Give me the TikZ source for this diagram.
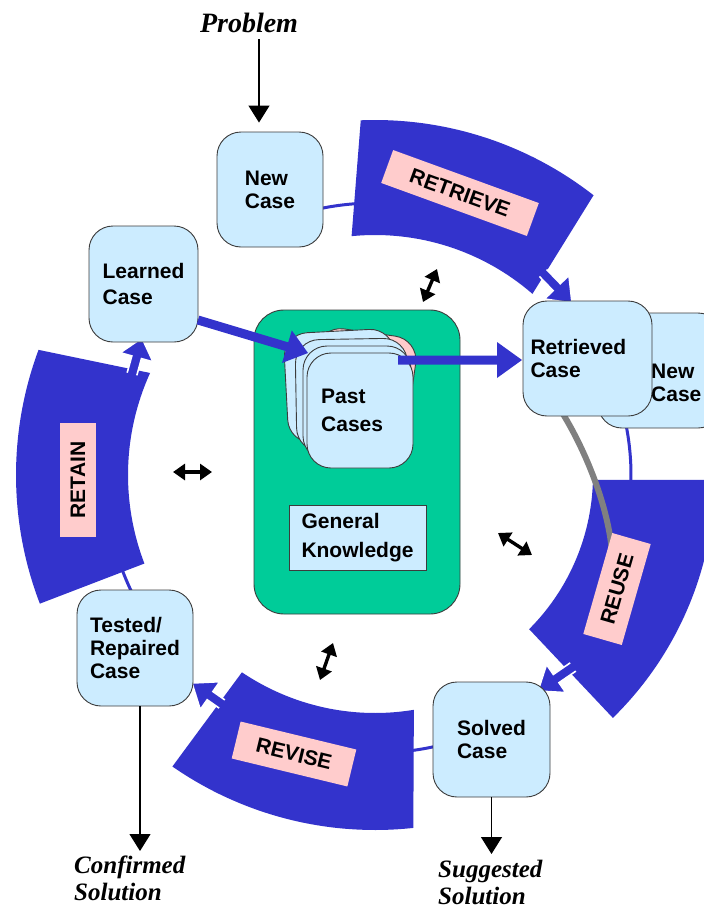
\documentclass[tikz,border=0pt]{standalone}
\usepackage{fontspec}
\setmainfont{Liberation Serif}
\newfontfamily\boxfont{Liberation Sans}
\usetikzlibrary{arrows.meta,calc}

\definecolor{bandblue}{RGB}{51,51,204}
\definecolor{labelpink}{RGB}{255,204,204}
\definecolor{caseblue}{RGB}{204,236,255}
\definecolor{kbgreen}{RGB}{0,204,153}
\definecolor{edgegray}{RGB}{60,60,60}
\definecolor{linkgray}{RGB}{128,128,128}

% annular band around the cycle centre (375,475):
% #1 inner radius, #2 outer radius, #3/#4 inner start/end angle, #5/#6 outer start/end angle
\newcommand\ringband[6]{%
  \fill[bandblue] plot[domain=#5:#6, samples=48] ({375+#2*cos(\x)}, {475-#2*sin(\x)})
    -- plot[domain=#4:#3, samples=48] ({375+#1*cos(\x)}, {475-#1*sin(\x)}) -- cycle;}

% thin arc along the cycle: #1 radius, #2 from angle, #3 to angle
\newcommand\ringlink[3]{%
  \draw[thinflow] plot[domain=#2:#3, samples=16] ({375+#1*cos(\x)}, {475-#1*sin(\x)});}

% block arrow: #1 start, #2 tip, #3 shaft half width, #4 head half width, #5 head length, #6 outline options
\newcommand\blockarrow[6]{%
  \path ($(#2)!#5!(#1)$) coordinate (ba-base);
  \fill[bandblue] ($(#1)!#3!90:(#2)$) -- ($(ba-base)!#3!90:(#2)$) -- ($(ba-base)!#4!90:(#2)$)
    -- (#2) -- ($(ba-base)!#4!-90:(#2)$) -- ($(ba-base)!#3!-90:(#2)$) -- ($(#1)!#3!-90:(#2)$) -- cycle;
  \draw[#6, line width=1.6pt, line join=miter] ($(#1)!#3!90:(#2)$) -- ($(ba-base)!#3!90:(#2)$) -- ($(ba-base)!#4!90:(#2)$)
    -- (#2) -- ($(ba-base)!#4!-90:(#2)$) -- ($(ba-base)!#3!-90:(#2)$) -- ($(#1)!#3!-90:(#2)$);}

\begin{document}
\begin{tikzpicture}[x=1pt, y=-1pt,
  boxtext/.style={font=\boxfont\bfseries\fontsize{21}{23}\selectfont, align=left, inner sep=0pt},
  casebox/.style={boxtext, draw=edgegray, line width=0.9pt, fill=caseblue, rounded corners=24pt},
  steplabel/.style={boxtext, fill=labelpink, align=center},
  outcome/.style={font=\fontsize{25}{27}\selectfont\bfseries\itshape, align=left, inner sep=0pt},
  thinflow/.style={bandblue, line width=3pt},
  outflow/.style={black, line width=1.2pt, -{Triangle[width=21pt,length=17pt]}},
  exchange/.style={black, line width=3.4pt, {Triangle[width=16pt,length=12pt]}-{Triangle[width=16pt,length=12pt]}},
  graylink/.style={linkgray, line width=6pt},
]
\useasboundingbox (0,0) rectangle (704,913);
\clip (0,0) rectangle (704,913);
\fill[white] (0,0) rectangle (704,913);

% thin links between the cases and the process bands
\ringlink{272}{102}{94}
\ringlink{256}{20}{-2}
\ringlink{278}{283}{276}
\ringlink{270}{206}{199}

% the four process bands
\ringband{240}{355}{95.6}{49}{92.3}{52}      % retrieve
\ringband{218}{340}{-1.3}{-45}{-0.8}{-45.6}  % reuse
\ringband{238}{355}{236}{279.4}{235.2}{276.2}% revise
\ringband{247}{359}{155.6}{201}{159.6}{201}  % retain

% block arrows leaving the bands
\coordinate (retrieveout) at (543,273);  \coordinate (retrievetip) at (572,303);
\coordinate (reuseout) at (573,667);     \coordinate (reusetip) at (538,691);
\coordinate (reviseout) at (222,704);    \coordinate (revisetip) at (192,683);
\coordinate (retainout) at (132,374);    \coordinate (retaintip) at (142,338);
\blockarrow{retrieveout}{retrievetip}{5pt}{17pt}{22pt}{white}
\blockarrow{reuseout}{reusetip}{5pt}{17pt}{22pt}{white}
\blockarrow{reviseout}{revisetip}{5pt}{17pt}{22pt}{white}
\blockarrow{retainout}{retaintip}{5pt}{17pt}{20pt}{white}

% link from the retrieved case into reuse
\coordinate (greystart) at (563,414);
\coordinate (greyend) at (612,552);
\draw[graylink] (greystart) .. controls (585,450) and (608,505) .. (greyend);

% process names
\node[steplabel, minimum width=155pt, minimum height=35pt, rotate=-20] (retrieve) at (460,193) {RETRIEVE};
\node[steplabel, minimum width=105pt, minimum height=40pt, rotate=74] (reuse) at (617,589) {REUSE};
\node[steplabel, minimum width=119pt, minimum height=38pt, rotate=-13.6] (revise) at (294,754) {REVISE};
\node[steplabel, minimum width=114pt, minimum height=36pt, rotate=90] (retain) at (78,480) {RETAIN};

% knowledge base
\node[draw=edgegray, line width=0.9pt, fill=kbgreen, rounded corners=30pt, minimum width=206pt, minimum height=304pt, inner sep=0pt] (kb) at (357,462) {};
\node[casebox, fill=labelpink, minimum width=100pt, minimum height=108pt, rotate=-8] (cardpink) at (362,386) {};
\node[casebox, minimum width=110pt, minimum height=110pt, rotate=3] (carda) at (341,386) {};
\node[casebox, minimum width=112pt, minimum height=112pt, rotate=1] (cardb) at (352,395) {};
\node[casebox, minimum width=108pt, minimum height=114pt] (cardc) at (357,403) {};
\node[casebox, minimum width=106pt, minimum height=115pt] (pastfront) at (360,410.5) {};
\node[boxtext, font=\boxfont\bfseries\fontsize{21}{28}\selectfont, anchor=west] (pastlabel) at (321,410) {Past\\Cases};
\node[draw=edgegray, line width=0.9pt, fill=caseblue, minimum width=137pt, minimum height=65pt, inner sep=0pt,
      font=\boxfont\bfseries\fontsize{21}{29}\selectfont, align=left] (gk) at (357.5,537.5) {General\\Knowledge};

% cases
\node[casebox, minimum width=124pt, minimum height=115pt] (newcaseb) at (660,370.5) {};
\node[boxtext, anchor=west] (newcasebtext) at (651,383) {New\\Case};
\node[casebox, minimum width=129pt, minimum height=115pt, text width=114pt] (retrieved) at (587.5,358.5) {Retrieved\\Case};
\node[casebox, minimum width=106pt, minimum height=115pt] (newcase) at (270,189.5) {New\\Case};
\node[casebox, minimum width=109pt, minimum height=116pt, font=\boxfont\bfseries\fontsize{21}{26}\selectfont] (learned) at (143.5,284) {Learned\\Case};
\node[casebox, minimum width=117pt, minimum height=115pt] (solved) at (491.5,739.5) {Solved\\Case};
\node[casebox, minimum width=116pt, minimum height=116pt] (tested) at (135,648) {Tested/\\Repaired\\Case};

% flows through the case base
\coordinate (learnout) at (198,320);  \coordinate (pastin) at (308,353);
\coordinate (pastout) at (398,360);   \coordinate (retrievedin) at (522,360);
\blockarrow{learnout}{pastin}{4.5pt}{17pt}{22pt}{draw=none}
\blockarrow{pastout}{retrievedin}{4.5pt}{18pt}{25pt}{draw=none}

% exchanges with the knowledge base
\coordinate (xa1) at (423,302); \coordinate (xa2) at (437,269);
\coordinate (xb1) at (173,472); \coordinate (xb2) at (212,472);
\coordinate (xc1) at (498,533); \coordinate (xc2) at (532,555);
\coordinate (xd1) at (333,643); \coordinate (xd2) at (320,680);
\draw[exchange] (xa1) -- (xa2);
\draw[exchange] (xb1) -- (xb2);
\draw[exchange] (xc1) -- (xc2);
\draw[exchange] (xd1) -- (xd2);

% problem in, solutions out
\node[outcome, font=\fontsize{28}{30}\selectfont\bfseries\itshape] (problem) at (249,23) {Problem};
\node[outcome, anchor=north west] (suggested) at (438,860) {Suggested\\Solution};
\node[outcome, anchor=north west] (confirmed) at (74,856) {Confirmed\\Solution};
\draw[outflow, shorten >=9pt] ([xshift=-11pt]newcase.north |- problem.south) ++(0,6) -- ([xshift=-11pt]newcase.north);
\draw[outflow, shorten >=6pt] (solved.south) -- (solved.south |- suggested.north);
\draw[outflow, shorten >=5pt] ([xshift=5pt]tested.south) -- ([xshift=5pt]tested.south |- confirmed.north);
\end{tikzpicture}
\end{document}
